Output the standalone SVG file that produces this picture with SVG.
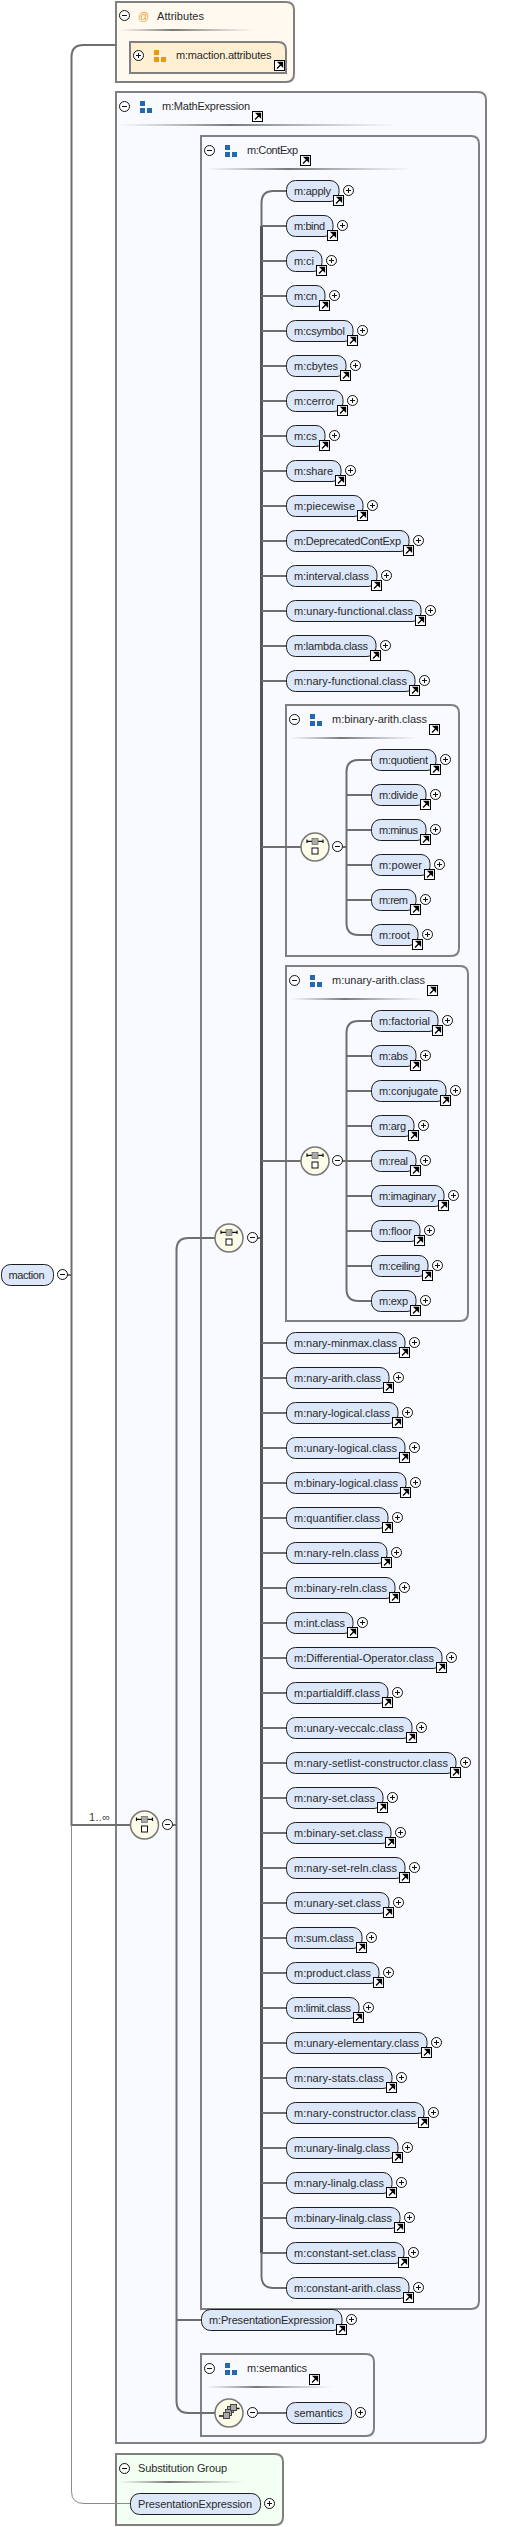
<svg xmlns="http://www.w3.org/2000/svg" width="505" height="2527" viewBox="0 0 505 2527">
<style>
text{font-family:"Liberation Sans",Arial,sans-serif;font-size:11px;fill:#2a2a2a}
.b{stroke:#808080;stroke-width:2}
.math{fill:#f8faff}.attr{fill:#fff9ef}.attri{fill:#ffefd2}.sub{fill:#f3fff3}
.p{fill:#dce7f9;stroke:#1e1e1e;stroke-width:1;rx:9px;ry:9px}
.c{fill:none;stroke:#6e6e6e;stroke-width:2}
.k{fill:none;stroke:#555;stroke-width:3}
.n{fill:none;stroke:#8a8a8a;stroke-width:1}
.o{fill:#fdfce8;stroke:#777;stroke-width:1.5}
</style>
<defs>
<linearGradient id="dv"><stop offset="0" stop-color="#999" stop-opacity="0"/><stop offset=".4" stop-color="#777"/><stop offset="1" stop-color="#999" stop-opacity="0"/></linearGradient>
<g id="ar"><rect x=".5" y=".5" width="10" height="10" fill="#fff" stroke="#000"/><path d="M3 8.5L6.5 5M4.5 2.5H8.5V6.5Z" stroke="#000" stroke-width="1.3" fill="#000"/></g>
<g id="pl"><circle r="5" fill="#fff" stroke="#111"/><path d="M-2.5 0H2.5M0-2.5V2.5" stroke="#111"/></g>
<g id="mi"><circle r="5" fill="#fff" stroke="#111"/><path d="M-2.5 0H2.5" stroke="#111"/></g>
<g id="bl" fill="#2568ad"><rect width="5" height="5"/><rect y="7" width="5" height="5"/><rect x="7" y="7" width="5" height="5"/></g>
<g id="or" fill="#e8980c"><rect width="5" height="5"/><rect y="7" width="5" height="5"/><rect x="7" y="7" width="5" height="5"/></g>
<g id="ch"><circle r="14" class="o"/><path d="M-8-7.5V-4M8-7.5V-4M-8-5.7H8" stroke="#111" stroke-width="1.2"/><rect x="-3" y="-8.5" width="6" height="6" fill="#aaa" stroke="#555" stroke-width=".6"/><rect x="-3" y="1" width="6" height="6" fill="#fff" stroke="#111"/></g>
<g id="sq"><circle r="14" class="o"/><path d="M-10 3H-6M7-4.5H10.5" stroke="#111" stroke-width="1.4"/><rect x="-1.5" y="-6.5" width="6" height="6" fill="#aaa" stroke="#444"/><rect x="-3.5" y="-3.5" width="6" height="6" fill="#aaa" stroke="#444"/><rect x="-5.5" y="-.5" width="6" height="6" fill="#aaa" stroke="#444"/><rect x="1.5" y="-8.5" width="6" height="6" fill="#aaa" stroke="#444"/></g>
</defs>

<g id="box-attributes">
<path class="b attr" d="M116 2H286Q294 2 294 10V74Q294 82 286 82H116Z"/>
<rect x="118" y="29" width="137" height="2" fill="url(#dv)"/>
<use href="#mi" x="124.5" y="15.5"/>
<text x="138" y="20" style="fill:#f0a030">@</text>
<text x="157" y="20" textLength="47">Attributes</text>
</g>
<g id="node-maction-attributes">
<path class="b attri" d="M130 42H278Q286 42 286 50V73H130Z"/>
<use href="#pl" x="138.5" y="55.5"/>
<use href="#or" x="154" y="50"/>
<text x="176" y="59" textLength="95.5">m:maction.attributes</text>
<use href="#ar" x="274" y="60"/>
</g>
<g id="box-mathexpression">
<path class="b math" d="M116 92H478Q486 92 486 100V2435Q486 2443 478 2443H116Z"/>
<rect x="118" y="124" width="280" height="2" fill="url(#dv)"/>
<use href="#mi" x="124.5" y="106.5"/>
<use href="#bl" x="140" y="101"/>
<text x="162" y="110" textLength="88">m:MathExpression</text>
<use href="#ar" x="252" y="111"/>
</g>
<g id="box-contexp">
<path class="b math" d="M201 136H471Q479 136 479 144V2301Q479 2309 471 2309H201Z"/>
<rect x="205" y="168" width="208" height="2" fill="url(#dv)"/>
<use href="#mi" x="209.5" y="150.5"/>
<use href="#bl" x="225" y="145"/>
<text x="247" y="154" textLength="51">m:ContExp</text>
<use href="#ar" x="300" y="155"/>
</g>
<g id="box-binary-arith">
<path class="b math" d="M286 705H451Q459 705 459 713V948Q459 956 451 956H286Z"/>
<rect x="290" y="737" width="128" height="2" fill="url(#dv)"/>
<use href="#mi" x="294.5" y="719.5"/>
<use href="#bl" x="310" y="714"/>
<text x="332" y="723" textLength="95">m:binary-arith.class</text>
<use href="#ar" x="429" y="724"/>
</g>
<g id="box-unary-arith">
<path class="b math" d="M286 966H460Q468 966 468 974V1313Q468 1321 460 1321H286Z"/>
<rect x="290" y="998" width="136" height="2" fill="url(#dv)"/>
<use href="#mi" x="294.5" y="980.5"/>
<use href="#bl" x="310" y="975"/>
<text x="332" y="984" textLength="93">m:unary-arith.class</text>
<use href="#ar" x="427" y="985"/>
</g>
<g id="box-semantics">
<path class="b math" d="M201 2354H366Q374 2354 374 2362V2428Q374 2436 366 2436H201Z"/>
<rect x="205" y="2386" width="128" height="2" fill="url(#dv)"/>
<use href="#mi" x="209.5" y="2368.5"/>
<use href="#bl" x="225" y="2363"/>
<text x="247" y="2372" textLength="60">m:semantics</text>
<use href="#ar" x="309" y="2374"/>
</g>
<g id="box-substitution">
<path class="b sub" d="M116 2454H275Q283 2454 283 2462V2517Q283 2525 275 2525H116Z"/>
<rect x="118" y="2481" width="127" height="2" fill="url(#dv)"/>
<use href="#mi" x="124.5" y="2468.5"/>
<text x="138" y="2472" textLength="89">Substitution Group</text>
</g>

<g id="connectors">
<path class="c" d="M116 45H83.5Q71.5 45 71.5 57V1825H130M67 1275H71.5"/>
<path class="n" d="M71.5 1825V2491.5Q71.5 2503.5 84 2503.5H130"/>
<path class="c" d="M172 1825H176.5M215 1238H188.5Q176.5 1238 176.5 1250V2401Q176.5 2413 188.5 2413H215M176.5 2320H201M258 2413H286M257 1238H261.5"/>
<path class="c" d="M286 191H273.5Q261.5 191 261.5 203V2276Q261.5 2288 273.5 2288H286"/>
<path class="k" d="M261.5 226V2253"/>
<path class="c" d="M261.5 226H286M261.5 261H286M261.5 296H286M261.5 331H286M261.5 366H286M261.5 401H286M261.5 436H286M261.5 471H286M261.5 506H286M261.5 541H286M261.5 576H286M261.5 611H286M261.5 646H286M261.5 681H286M261.5 847H301M261.5 1161H301M261.5 1343H286M261.5 1378H286M261.5 1413H286M261.5 1448H286M261.5 1483H286M261.5 1518H286M261.5 1553H286M261.5 1588H286M261.5 1623H286M261.5 1658H286M261.5 1693H286M261.5 1728H286M261.5 1763H286M261.5 1798H286M261.5 1833H286M261.5 1868H286M261.5 1903H286M261.5 1938H286M261.5 1973H286M261.5 2008H286M261.5 2043H286M261.5 2078H286M261.5 2113H286M261.5 2148H286M261.5 2183H286M261.5 2218H286M261.5 2253H286"/>
<path class="c" d="M342 847H346.5M371 760H358.5Q346.5 760 346.5 772V923Q346.5 935 358.5 935H371M346.5 795H371M346.5 830H371M346.5 865H371M346.5 900H371"/>
<path class="c" d="M342 1161H346.5M371 1021H358.5Q346.5 1021 346.5 1033V1289Q346.5 1301 358.5 1301H371M346.5 1056H371M346.5 1091H371M346.5 1126H371M346.5 1161H371M346.5 1196H371M346.5 1231H371M346.5 1266H371"/>
<text x="89" y="1821" textLength="21" style="fill:#444">1..∞</text>
</g>

<g id="node-maction" transform="translate(1,1275)"><rect class="p" x=".5" y="-10.5" width="52" height="21"/><text x="7.5" y="4" textLength="36">maction</text><use href="#mi" x="61.5" y="-.5"/></g>
<g id="choice-main" transform="translate(144.5,1825)"><use href="#ch"/><use href="#mi" x="23" y="-.5"/></g>
<g id="choice-contexp" transform="translate(229,1238)"><use href="#ch"/><use href="#mi" x="23.5" y="-.5"/></g>
<g id="choice-binary" transform="translate(315,847)"><use href="#ch"/><use href="#mi" x="22.5" y="-.5"/></g>
<g id="choice-unary" transform="translate(315,1161)"><use href="#ch"/><use href="#mi" x="22.5" y="-.5"/></g>
<g id="all-semantics" transform="translate(229,2413)"><use href="#sq"/><use href="#mi" x="23.5" y="-.5"/></g>

<g id="n1" transform="translate(286,191)"><rect class="p" x=".5" y="-10.5" width="52.5" height="21"/><text x="8" y="4" textLength="37">m:apply</text><use href="#ar" x="47" y="4"/><use href="#pl" x="62.5" y="-.5"/></g>
<g id="n2" transform="translate(286,226)"><rect class="p" x=".5" y="-10.5" width="46.5" height="21"/><text x="8" y="4" textLength="31">m:bind</text><use href="#ar" x="41" y="4"/><use href="#pl" x="56.5" y="-.5"/></g>
<g id="n3" transform="translate(286,261)"><rect class="p" x=".5" y="-10.5" width="35.5" height="21"/><text x="8" y="4" textLength="20">m:ci</text><use href="#ar" x="30" y="4"/><use href="#pl" x="45.5" y="-.5"/></g>
<g id="n4" transform="translate(286,296)"><rect class="p" x=".5" y="-10.5" width="38.5" height="21"/><text x="8" y="4" textLength="23">m:cn</text><use href="#ar" x="33" y="4"/><use href="#pl" x="48.5" y="-.5"/></g>
<g id="n5" transform="translate(286,331)"><rect class="p" x=".5" y="-10.5" width="66.5" height="21"/><text x="8" y="4" textLength="51">m:csymbol</text><use href="#ar" x="61" y="4"/><use href="#pl" x="76.5" y="-.5"/></g>
<g id="n6" transform="translate(286,366)"><rect class="p" x=".5" y="-10.5" width="59.5" height="21"/><text x="8" y="4" textLength="44">m:cbytes</text><use href="#ar" x="54" y="4"/><use href="#pl" x="69.5" y="-.5"/></g>
<g id="n7" transform="translate(286,401)"><rect class="p" x=".5" y="-10.5" width="56.5" height="21"/><text x="8" y="4" textLength="41">m:cerror</text><use href="#ar" x="51" y="4"/><use href="#pl" x="66.5" y="-.5"/></g>
<g id="n8" transform="translate(286,436)"><rect class="p" x=".5" y="-10.5" width="38.5" height="21"/><text x="8" y="4" textLength="23">m:cs</text><use href="#ar" x="33" y="4"/><use href="#pl" x="48.5" y="-.5"/></g>
<g id="n9" transform="translate(286,471)"><rect class="p" x=".5" y="-10.5" width="54.5" height="21"/><text x="8" y="4" textLength="39">m:share</text><use href="#ar" x="49" y="4"/><use href="#pl" x="64.5" y="-.5"/></g>
<g id="n10" transform="translate(286,506)"><rect class="p" x=".5" y="-10.5" width="76.5" height="21"/><text x="8" y="4" textLength="61">m:piecewise</text><use href="#ar" x="71" y="4"/><use href="#pl" x="86.5" y="-.5"/></g>
<g id="n11" transform="translate(286,541)"><rect class="p" x=".5" y="-10.5" width="122.5" height="21"/><text x="8" y="4" textLength="107">m:DeprecatedContExp</text><use href="#ar" x="117" y="4"/><use href="#pl" x="132.5" y="-.5"/></g>
<g id="n12" transform="translate(286,576)"><rect class="p" x=".5" y="-10.5" width="90.5" height="21"/><text x="8" y="4" textLength="75">m:interval.class</text><use href="#ar" x="85" y="4"/><use href="#pl" x="100.5" y="-.5"/></g>
<g id="n13" transform="translate(286,611)"><rect class="p" x=".5" y="-10.5" width="134.5" height="21"/><text x="8" y="4" textLength="119">m:unary-functional.class</text><use href="#ar" x="129" y="4"/><use href="#pl" x="144.5" y="-.5"/></g>
<g id="n14" transform="translate(286,646)"><rect class="p" x=".5" y="-10.5" width="89.5" height="21"/><text x="8" y="4" textLength="74">m:lambda.class</text><use href="#ar" x="84" y="4"/><use href="#pl" x="99.5" y="-.5"/></g>
<g id="n15" transform="translate(286,681)"><rect class="p" x=".5" y="-10.5" width="128.5" height="21"/><text x="8" y="4" textLength="113">m:nary-functional.class</text><use href="#ar" x="123" y="4"/><use href="#pl" x="138.5" y="-.5"/></g>

<g id="b1" transform="translate(371,760)"><rect class="p" x=".5" y="-10.5" width="64.5" height="21"/><text x="8" y="4" textLength="49">m:quotient</text><use href="#ar" x="59" y="4"/><use href="#pl" x="74.5" y="-.5"/></g>
<g id="b2" transform="translate(371,795)"><rect class="p" x=".5" y="-10.5" width="54.5" height="21"/><text x="8" y="4" textLength="39">m:divide</text><use href="#ar" x="49" y="4"/><use href="#pl" x="64.5" y="-.5"/></g>
<g id="b3" transform="translate(371,830)"><rect class="p" x=".5" y="-10.5" width="54.5" height="21"/><text x="8" y="4" textLength="39">m:minus</text><use href="#ar" x="49" y="4"/><use href="#pl" x="64.5" y="-.5"/></g>
<g id="b4" transform="translate(371,865)"><rect class="p" x=".5" y="-10.5" width="58.5" height="21"/><text x="8" y="4" textLength="43">m:power</text><use href="#ar" x="53" y="4"/><use href="#pl" x="68.5" y="-.5"/></g>
<g id="b5" transform="translate(371,900)"><rect class="p" x=".5" y="-10.5" width="44.5" height="21"/><text x="8" y="4" textLength="29">m:rem</text><use href="#ar" x="39" y="4"/><use href="#pl" x="54.5" y="-.5"/></g>
<g id="b6" transform="translate(371,935)"><rect class="p" x=".5" y="-10.5" width="46.5" height="21"/><text x="8" y="4" textLength="31">m:root</text><use href="#ar" x="41" y="4"/><use href="#pl" x="56.5" y="-.5"/></g>

<g id="u1" transform="translate(371,1021)"><rect class="p" x=".5" y="-10.5" width="66.5" height="21"/><text x="8" y="4" textLength="51">m:factorial</text><use href="#ar" x="61" y="4"/><use href="#pl" x="76.5" y="-.5"/></g>
<g id="u2" transform="translate(371,1056)"><rect class="p" x=".5" y="-10.5" width="44.5" height="21"/><text x="8" y="4" textLength="29">m:abs</text><use href="#ar" x="39" y="4"/><use href="#pl" x="54.5" y="-.5"/></g>
<g id="u3" transform="translate(371,1091)"><rect class="p" x=".5" y="-10.5" width="74.5" height="21"/><text x="8" y="4" textLength="59">m:conjugate</text><use href="#ar" x="69" y="4"/><use href="#pl" x="84.5" y="-.5"/></g>
<g id="u4" transform="translate(371,1126)"><rect class="p" x=".5" y="-10.5" width="42.5" height="21"/><text x="8" y="4" textLength="27">m:arg</text><use href="#ar" x="37" y="4"/><use href="#pl" x="52.5" y="-.5"/></g>
<g id="u5" transform="translate(371,1161)"><rect class="p" x=".5" y="-10.5" width="44.5" height="21"/><text x="8" y="4" textLength="29">m:real</text><use href="#ar" x="39" y="4"/><use href="#pl" x="54.5" y="-.5"/></g>
<g id="u6" transform="translate(371,1196)"><rect class="p" x=".5" y="-10.5" width="72.5" height="21"/><text x="8" y="4" textLength="57">m:imaginary</text><use href="#ar" x="67" y="4"/><use href="#pl" x="82.5" y="-.5"/></g>
<g id="u7" transform="translate(371,1231)"><rect class="p" x=".5" y="-10.5" width="48.5" height="21"/><text x="8" y="4" textLength="33">m:floor</text><use href="#ar" x="43" y="4"/><use href="#pl" x="58.5" y="-.5"/></g>
<g id="u8" transform="translate(371,1266)"><rect class="p" x=".5" y="-10.5" width="56.5" height="21"/><text x="8" y="4" textLength="41">m:ceiling</text><use href="#ar" x="51" y="4"/><use href="#pl" x="66.5" y="-.5"/></g>
<g id="u9" transform="translate(371,1301)"><rect class="p" x=".5" y="-10.5" width="44.5" height="21"/><text x="8" y="4" textLength="29">m:exp</text><use href="#ar" x="39" y="4"/><use href="#pl" x="54.5" y="-.5"/></g>

<g id="m1" transform="translate(286,1343)"><rect class="p" x=".5" y="-10.5" width="118.5" height="21"/><text x="8" y="4" textLength="103">m:nary-minmax.class</text><use href="#ar" x="113" y="4"/><use href="#pl" x="128.5" y="-.5"/></g>
<g id="m2" transform="translate(286,1378)"><rect class="p" x=".5" y="-10.5" width="102.5" height="21"/><text x="8" y="4" textLength="87">m:nary-arith.class</text><use href="#ar" x="97" y="4"/><use href="#pl" x="112.5" y="-.5"/></g>
<g id="m3" transform="translate(286,1413)"><rect class="p" x=".5" y="-10.5" width="111.5" height="21"/><text x="8" y="4" textLength="96">m:nary-logical.class</text><use href="#ar" x="106" y="4"/><use href="#pl" x="121.5" y="-.5"/></g>
<g id="m4" transform="translate(286,1448)"><rect class="p" x=".5" y="-10.5" width="118.5" height="21"/><text x="8" y="4" textLength="103">m:unary-logical.class</text><use href="#ar" x="113" y="4"/><use href="#pl" x="128.5" y="-.5"/></g>
<g id="m5" transform="translate(286,1483)"><rect class="p" x=".5" y="-10.5" width="119.5" height="21"/><text x="8" y="4" textLength="104">m:binary-logical.class</text><use href="#ar" x="114" y="4"/><use href="#pl" x="129.5" y="-.5"/></g>
<g id="m6" transform="translate(286,1518)"><rect class="p" x=".5" y="-10.5" width="101.5" height="21"/><text x="8" y="4" textLength="86">m:quantifier.class</text><use href="#ar" x="96" y="4"/><use href="#pl" x="111.5" y="-.5"/></g>
<g id="m7" transform="translate(286,1553)"><rect class="p" x=".5" y="-10.5" width="100.5" height="21"/><text x="8" y="4" textLength="85">m:nary-reln.class</text><use href="#ar" x="95" y="4"/><use href="#pl" x="110.5" y="-.5"/></g>
<g id="m8" transform="translate(286,1588)"><rect class="p" x=".5" y="-10.5" width="108.5" height="21"/><text x="8" y="4" textLength="93">m:binary-reln.class</text><use href="#ar" x="103" y="4"/><use href="#pl" x="118.5" y="-.5"/></g>
<g id="m9" transform="translate(286,1623)"><rect class="p" x=".5" y="-10.5" width="66.5" height="21"/><text x="8" y="4" textLength="51">m:int.class</text><use href="#ar" x="61" y="4"/><use href="#pl" x="76.5" y="-.5"/></g>
<g id="m10" transform="translate(286,1658)"><rect class="p" x=".5" y="-10.5" width="155.5" height="21"/><text x="8" y="4" textLength="140">m:Differential-Operator.class</text><use href="#ar" x="150" y="4"/><use href="#pl" x="165.5" y="-.5"/></g>
<g id="m11" transform="translate(286,1693)"><rect class="p" x=".5" y="-10.5" width="101.5" height="21"/><text x="8" y="4" textLength="86">m:partialdiff.class</text><use href="#ar" x="96" y="4"/><use href="#pl" x="111.5" y="-.5"/></g>
<g id="m12" transform="translate(286,1728)"><rect class="p" x=".5" y="-10.5" width="125.5" height="21"/><text x="8" y="4" textLength="110">m:unary-veccalc.class</text><use href="#ar" x="120" y="4"/><use href="#pl" x="135.5" y="-.5"/></g>
<g id="m13" transform="translate(286,1763)"><rect class="p" x=".5" y="-10.5" width="169.5" height="21"/><text x="8" y="4" textLength="154">m:nary-setlist-constructor.class</text><use href="#ar" x="164" y="4"/><use href="#pl" x="179.5" y="-.5"/></g>
<g id="m14" transform="translate(286,1798)"><rect class="p" x=".5" y="-10.5" width="96.5" height="21"/><text x="8" y="4" textLength="81">m:nary-set.class</text><use href="#ar" x="91" y="4"/><use href="#pl" x="106.5" y="-.5"/></g>
<g id="m15" transform="translate(286,1833)"><rect class="p" x=".5" y="-10.5" width="104.5" height="21"/><text x="8" y="4" textLength="89">m:binary-set.class</text><use href="#ar" x="99" y="4"/><use href="#pl" x="114.5" y="-.5"/></g>
<g id="m16" transform="translate(286,1868)"><rect class="p" x=".5" y="-10.5" width="118.5" height="21"/><text x="8" y="4" textLength="103">m:nary-set-reln.class</text><use href="#ar" x="113" y="4"/><use href="#pl" x="128.5" y="-.5"/></g>
<g id="m17" transform="translate(286,1903)"><rect class="p" x=".5" y="-10.5" width="102.5" height="21"/><text x="8" y="4" textLength="87">m:unary-set.class</text><use href="#ar" x="97" y="4"/><use href="#pl" x="112.5" y="-.5"/></g>
<g id="m18" transform="translate(286,1938)"><rect class="p" x=".5" y="-10.5" width="75.5" height="21"/><text x="8" y="4" textLength="60">m:sum.class</text><use href="#ar" x="70" y="4"/><use href="#pl" x="85.5" y="-.5"/></g>
<g id="m19" transform="translate(286,1973)"><rect class="p" x=".5" y="-10.5" width="92.5" height="21"/><text x="8" y="4" textLength="77">m:product.class</text><use href="#ar" x="87" y="4"/><use href="#pl" x="102.5" y="-.5"/></g>
<g id="m20" transform="translate(286,2008)"><rect class="p" x=".5" y="-10.5" width="72.5" height="21"/><text x="8" y="4" textLength="57">m:limit.class</text><use href="#ar" x="67" y="4"/><use href="#pl" x="82.5" y="-.5"/></g>
<g id="m21" transform="translate(286,2043)"><rect class="p" x=".5" y="-10.5" width="140.5" height="21"/><text x="8" y="4" textLength="125">m:unary-elementary.class</text><use href="#ar" x="135" y="4"/><use href="#pl" x="150.5" y="-.5"/></g>
<g id="m22" transform="translate(286,2078)"><rect class="p" x=".5" y="-10.5" width="105.5" height="21"/><text x="8" y="4" textLength="90">m:nary-stats.class</text><use href="#ar" x="100" y="4"/><use href="#pl" x="115.5" y="-.5"/></g>
<g id="m23" transform="translate(286,2113)"><rect class="p" x=".5" y="-10.5" width="137.5" height="21"/><text x="8" y="4" textLength="122">m:nary-constructor.class</text><use href="#ar" x="132" y="4"/><use href="#pl" x="147.5" y="-.5"/></g>
<g id="m24" transform="translate(286,2148)"><rect class="p" x=".5" y="-10.5" width="111.5" height="21"/><text x="8" y="4" textLength="96">m:unary-linalg.class</text><use href="#ar" x="106" y="4"/><use href="#pl" x="121.5" y="-.5"/></g>
<g id="m25" transform="translate(286,2183)"><rect class="p" x=".5" y="-10.5" width="105.5" height="21"/><text x="8" y="4" textLength="90">m:nary-linalg.class</text><use href="#ar" x="100" y="4"/><use href="#pl" x="115.5" y="-.5"/></g>
<g id="m26" transform="translate(286,2218)"><rect class="p" x=".5" y="-10.5" width="113.5" height="21"/><text x="8" y="4" textLength="98">m:binary-linalg.class</text><use href="#ar" x="108" y="4"/><use href="#pl" x="123.5" y="-.5"/></g>
<g id="m27" transform="translate(286,2253)"><rect class="p" x=".5" y="-10.5" width="117.5" height="21"/><text x="8" y="4" textLength="102">m:constant-set.class</text><use href="#ar" x="112" y="4"/><use href="#pl" x="127.5" y="-.5"/></g>
<g id="m28" transform="translate(286,2288)"><rect class="p" x=".5" y="-10.5" width="122.5" height="21"/><text x="8" y="4" textLength="107">m:constant-arith.class</text><use href="#ar" x="117" y="4"/><use href="#pl" x="132.5" y="-.5"/></g>

<g id="node-presentation-ref" transform="translate(201,2320)"><rect class="p" x=".5" y="-10.5" width="140.5" height="21"/><text x="8" y="4" textLength="125">m:PresentationExpression</text><use href="#ar" x="135" y="4"/><use href="#pl" x="150.5" y="-.5"/></g>
<g id="node-semantics" transform="translate(286,2413)"><rect class="p" x=".5" y="-10.5" width="65" height="21"/><text x="8" y="4" textLength="49">semantics</text><use href="#pl" x="74.5" y="-.5"/></g>
<g id="node-presentation" transform="translate(130,2504)"><rect class="p" x=".5" y="-10.5" width="130" height="21"/><text x="8" y="4" textLength="114">PresentationExpression</text><use href="#pl" x="139.5" y="-.5"/></g>
</svg>
